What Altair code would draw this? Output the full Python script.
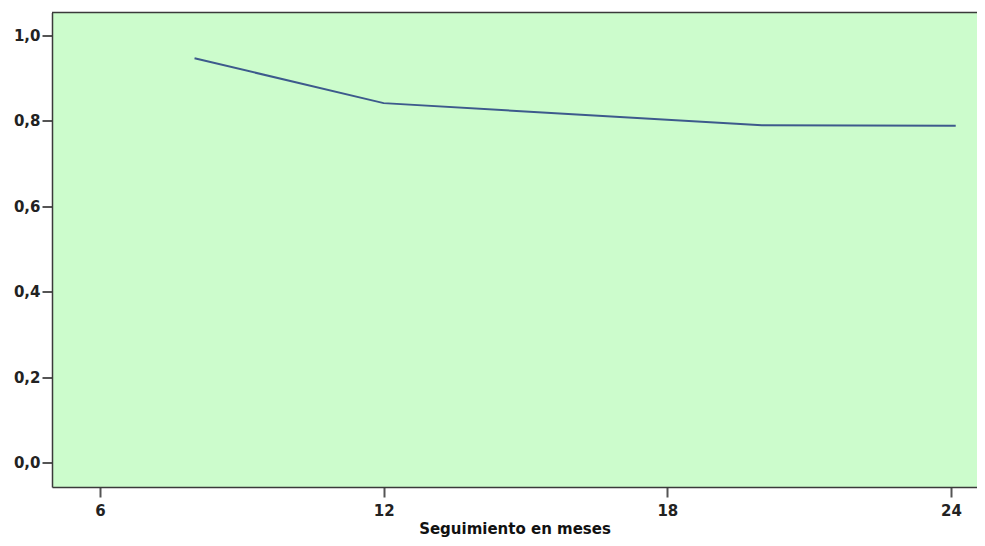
import altair as alt
import pandas as pd

months = [8, 12, 20, 24.1]
survival = [0.946, 0.841, 0.789, 0.788]
x_ticks = [6, 12, 18, 24]
y_ticks = [0.0, 0.2, 0.4, 0.6, 0.8, 1.0]

df = pd.DataFrame({"mes": months, "sup": survival})

FONT = "DejaVu Sans"
BORDER = "#3a3a3a"

line = alt.Chart(df).mark_line(color="#3d5a8c", strokeWidth=2).encode(
    x=alt.X("mes:Q",
            scale=alt.Scale(domain=[4.985, 24.55], nice=False, zero=False),
            axis=alt.Axis(values=x_ticks, title="Seguimiento en meses",
                          format="d", grid=False, domain=True,
                          domainColor=BORDER, domainWidth=1.5,
                          tickSize=10, tickColor="#555", tickWidth=2,
                          labelPadding=6, labelFont=FONT, labelFontSize=15,
                          labelFontWeight="bold", labelColor="#222",
                          titleFont=FONT, titleFontSize=15, titleFontWeight="bold",
                          titleColor="#111", titlePadding=3)),
    y=alt.Y("sup:Q",
            scale=alt.Scale(domain=[-0.057, 1.053], nice=False, zero=False),
            axis=alt.Axis(values=y_ticks, title=None, grid=False, domain=True,
                          domainColor=BORDER, domainWidth=1.5,
                          labelExpr="replace(format(datum.value, '.1f'), '.', ',')",
                          tickSize=10, tickColor="#555", tickWidth=2,
                          labelPadding=2, labelFont=FONT, labelFontSize=15,
                          labelFontWeight="bold", labelColor="#222")),
)

top_border = alt.Chart(pd.DataFrame({"k": [0]})).mark_rule(
    color=BORDER, strokeWidth=1.5
).encode(y=alt.value(0))

chart = alt.layer(line, top_border).properties(
    width=925, height=474.5,
    autosize=alt.AutoSizeParams(type="none"),
    padding={"left": 44, "top": 4.5, "right": 0, "bottom": 51},
).configure_view(
    fill="#ccfccc", strokeWidth=0
)

chart.save("out.html", embed_options={"renderer": "svg", "actions": False})
